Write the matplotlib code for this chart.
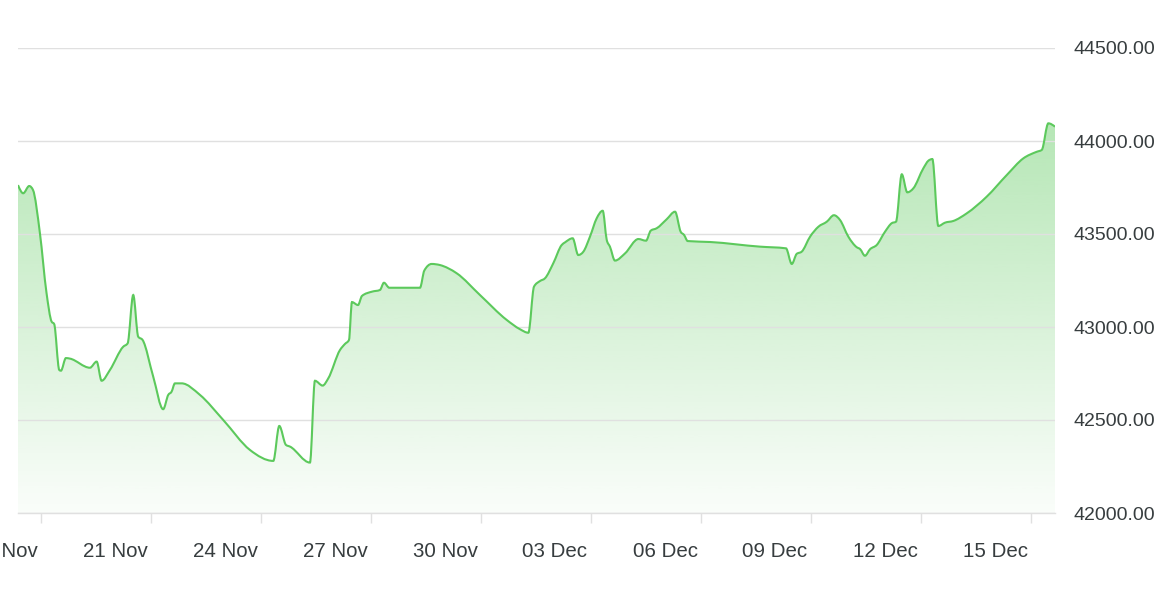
import numpy as np
import pandas as pd
import matplotlib
matplotlib.use("Agg")
import matplotlib.pyplot as plt
import matplotlib.dates as mdates
from matplotlib.path import Path
from matplotlib.patches import PathPatch
from matplotlib.transforms import ScaledTranslation

# price series
times = [
    "2023-11-17 09:00", "2023-11-17 12:24", "2023-11-17 16:20", "2023-11-17 18:48", "2023-11-17 23:20",
    "2023-11-18 03:40", "2023-11-18 07:00", "2023-11-18 08:40", "2023-11-18 12:00", "2023-11-18 13:05",
    "2023-11-18 16:22", "2023-11-18 19:00", "2023-11-19 08:05", "2023-11-19 12:28", "2023-11-19 15:44",
    "2023-11-19 21:10", "2023-11-20 05:52", "2023-11-20 08:45", "2023-11-20 12:25", "2023-11-20 15:40",
    "2023-11-20 18:34", "2023-11-21 01:30", "2023-11-21 08:00", "2023-11-21 11:20", "2023-11-21 13:30",
    "2023-11-21 15:43", "2023-11-21 20:06", "2023-11-22 08:04", "2023-11-22 23:20", "2023-11-23 16:48",
    "2023-11-24 08:04", "2023-11-24 12:00", "2023-11-24 16:22", "2023-11-24 19:00", "2023-11-25 08:04",
    "2023-11-25 11:20", "2023-11-25 16:22", "2023-11-25 20:04", "2023-11-26 03:42", "2023-11-26 07:00",
    "2023-11-26 09:36", "2023-11-26 11:34", "2023-11-26 15:30", "2023-11-26 18:07", "2023-11-27 00:40",
    "2023-11-27 05:53", "2023-11-27 08:30", "2023-11-27 12:00", "2023-11-27 15:42", "2023-11-28 08:04",
    "2023-11-28 10:53", "2023-11-28 15:43", "2023-11-28 21:10", "2023-11-29 08:05", "2023-11-29 23:20",
    "2023-11-30 16:50", "2023-12-01 01:32", "2023-12-01 07:00", "2023-12-01 10:42", "2023-12-01 14:36",
    "2023-12-01 17:54", "2023-12-01 23:20", "2023-12-02 04:50", "2023-12-02 07:00", "2023-12-02 12:00",
    "2023-12-02 15:40", "2023-12-02 19:00", "2023-12-02 23:20", "2023-12-03 03:42", "2023-12-03 07:40",
    "2023-12-03 10:18", "2023-12-03 12:24", "2023-12-03 15:42", "2023-12-03 22:18", "2023-12-04 07:00",
    "2023-12-04 12:00", "2023-12-04 15:06", "2023-12-04 19:00", "2023-12-05 01:30", "2023-12-05 07:00",
    "2023-12-05 10:42", "2023-12-05 12:54", "2023-12-05 15:18", "2023-12-06 05:54", "2023-12-07 14:36",
    "2023-12-08 07:36", "2023-12-08 11:24", "2023-12-08 14:36", "2023-12-08 17:54", "2023-12-08 23:24",
    "2023-12-09 04:48", "2023-12-09 10:18", "2023-12-09 15:00", "2023-12-09 19:00", "2023-12-10 00:24",
    "2023-12-10 05:54", "2023-12-10 08:06", "2023-12-10 11:18", "2023-12-10 14:36", "2023-12-10 19:00",
    "2023-12-11 00:24", "2023-12-11 04:48", "2023-12-11 07:36", "2023-12-11 11:24", "2023-12-11 15:00",
    "2023-12-11 19:00", "2023-12-12 01:30", "2023-12-12 04:48", "2023-12-12 07:24", "2023-12-12 11:18",
    "2023-12-12 15:42", "2023-12-12 21:06", "2023-12-13 05:54", "2023-12-13 19:00", "2023-12-14 08:06",
    "2023-12-14 19:00", "2023-12-15 03:42", "2023-12-15 07:00", "2023-12-15 11:18", "2023-12-15 15:40",
]
prices = [
    43763, 43719, 43758, 43737, 43505,
    43183, 43029, 43016, 42769, 42765,
    42833, 42830, 42781, 42814, 42711,
    42769, 42894, 42912, 43172, 42948,
    42930, 42733, 42558, 42635, 42652,
    42697, 42697, 42635, 42500, 42339,
    42280, 42468, 42366, 42357, 42271,
    42711, 42685, 42724, 42876, 42909,
    42930, 43134, 43118, 43167, 43190,
    43199, 43238, 43211, 43211, 43211,
    43303, 43339, 43333, 43289, 43172,
    43038, 42988, 42969, 43217, 43247,
    43262, 43343, 43441, 43455, 43477,
    43387, 43405, 43486, 43584, 43625,
    43468, 43432, 43357, 43396, 43473,
    43464, 43518, 43531, 43579, 43620,
    43512, 43495, 43462, 43457, 43432,
    43423, 43339, 43393, 43405, 43486,
    43539, 43566, 43601, 43575, 43486,
    43429, 43419, 43383, 43418, 43441,
    43512, 43558, 43566, 43821, 43724,
    43746, 43853, 43894, 43903, 43543,
    43561, 43570, 43611, 43701, 43817,
    43907, 43942, 43952, 44095, 44077,
]

tick_dates = ["2023-11-18", "2023-11-21", "2023-11-24", "2023-11-27", "2023-11-30",
              "2023-12-03", "2023-12-06", "2023-12-09", "2023-12-12", "2023-12-15"]
y_ticks = [42000, 42500, 43000, 43500, 44000, 44500]

line_color = "#5cc95c"
text_color = "#373d3f"
grid_color = "#e0e0e0"

plt.rcParams["font.family"] = ["Liberation Sans", "DejaVu Sans"]

x = mdates.date2num(pd.to_datetime(times).to_pydatetime())
y = np.array(prices, dtype=float)


def smooth_path(x, y):
    # monotone cubic bezier through the points (d3 monotoneX style)
    h = np.diff(x)
    s = np.diff(y) / h
    t = np.zeros(len(x))
    for i in range(1, len(x) - 1):
        p = (s[i - 1] * h[i] + s[i] * h[i - 1]) / (h[i - 1] + h[i])
        t[i] = (np.sign(s[i - 1]) + np.sign(s[i])) * min(abs(s[i - 1]), abs(s[i]), 0.5 * abs(p))
    t[0] = (3 * s[0] - t[1]) / 2
    t[-1] = (3 * s[-1] - t[-2]) / 2
    verts = [(x[0], y[0])]
    codes = [Path.MOVETO]
    for i in range(len(x) - 1):
        d = h[i] / 3
        verts += [(x[i] + d, y[i] + d * t[i]), (x[i + 1] - d, y[i + 1] - d * t[i + 1]), (x[i + 1], y[i + 1])]
        codes += [Path.CURVE4] * 3
    return verts, codes


fig = plt.figure(figsize=(11.74, 6.10), dpi=100)
ax = fig.add_axes([18 / 1174, 97 / 610, 1037 / 1174, 465 / 610])

verts, codes = smooth_path(x, y)
fill_path = Path(verts + [(x[-1], 42000), (x[0], 42000), (x[0], y[0])],
                 codes + [Path.LINETO, Path.LINETO, Path.CLOSEPOLY])
fill_patch = PathPatch(fill_path, facecolor="none", edgecolor="none", transform=ax.transData)
ax.add_patch(fill_patch)

# vertical gradient under the line
grad = np.zeros((256, 1, 4))
grad[:, 0, :3] = matplotlib.colors.to_rgb(line_color)
grad[:, 0, 3] = np.linspace(0.03, 0.45, 256)
im = ax.imshow(grad, extent=[x[0], x[-1], 42000, y.max()], origin="lower",
               aspect="auto", zorder=1, interpolation="bilinear")
im.set_clip_path(fill_patch)

ax.add_patch(PathPatch(Path(verts, codes), facecolor="none", edgecolor=line_color,
                       lw=1.5, zorder=3, transform=ax.transData))

ax.set_xlim(x[0], x[-1])
ax.set_ylim(42000, 44500)

ax.set_yticks(y_ticks)
ax.set_yticklabels([f"{v:.2f}" for v in y_ticks])
ax.yaxis.tick_right()
ax.tick_params(axis="y", length=0, pad=13.5, labelsize=14, labelcolor=text_color)
ax.grid(axis="y", color=grid_color, lw=1, zorder=0)

tick_x = mdates.date2num(pd.to_datetime(tick_dates).to_pydatetime())
ax.set_xticks(tick_x)
ax.set_xticklabels(pd.to_datetime(tick_dates).strftime("%d %b"))
ax.tick_params(axis="x", length=7.2, width=1, color=grid_color, pad=13.5,
               labelsize=14.8, labelcolor=text_color)
shift = ScaledTranslation(-0.36, 0, fig.dpi_scale_trans)
for lab in ax.get_xticklabels():
    lab.set_transform(lab.get_transform() + shift)

for side in ["top", "left", "right"]:
    ax.spines[side].set_visible(False)
ax.spines["bottom"].set_color(grid_color)
ax.spines["bottom"].set_linewidth(1)

fig.savefig("out.png", dpi=100, facecolor="white")
